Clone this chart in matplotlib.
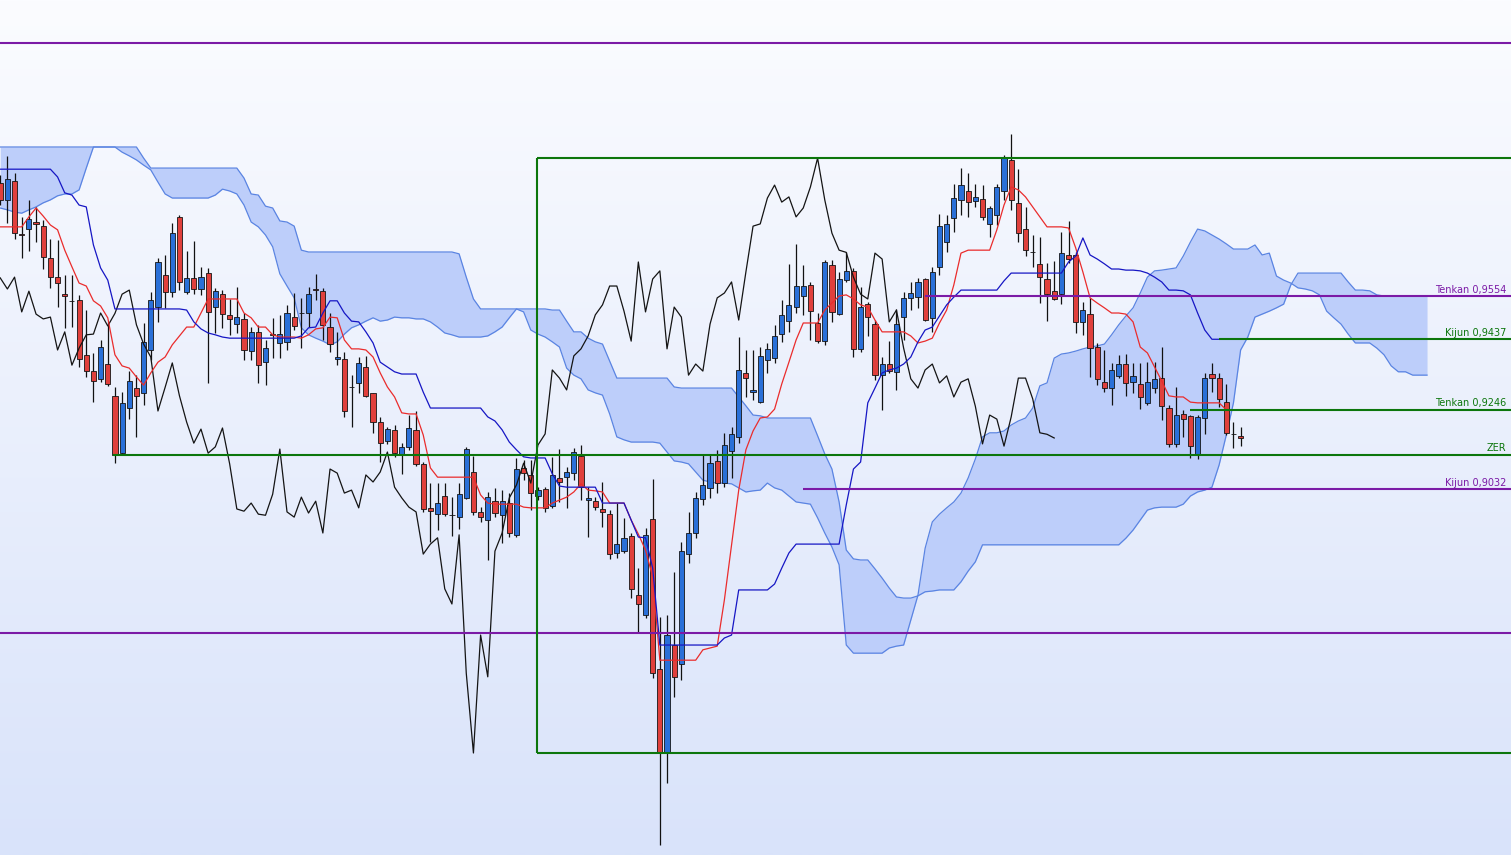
import numpy as np
import matplotlib
matplotlib.use("Agg")
import matplotlib.pyplot as plt
from matplotlib import transforms

# ---------------- data (prices) ----------------
open_ = [0.9860, 0.9814, 0.9865, 0.9722, 0.9735, 0.9754, 0.9743, 0.9657, 0.9605, 0.9559,
         0.9541, 0.9543, 0.9395, 0.9351, 0.9330, 0.9370, 0.9284, 0.9129, 0.9251, 0.9305,
         0.9292, 0.9408, 0.9524, 0.9611, 0.9565, 0.9768, 0.9565, 0.9603, 0.9573, 0.9616,
         0.9524, 0.9559, 0.9503, 0.9478, 0.9492, 0.9405, 0.9457, 0.9376, 0.9451, 0.9427,
         0.9430, 0.9497, 0.9508, 0.9508, 0.9573, 0.9568, 0.9470, 0.9384, 0.9384, 0.9308,
         0.9319, 0.9362, 0.9292, 0.9213, 0.9162, 0.9192, 0.9124, 0.9146, 0.9192, 0.9100,
         0.8981, 0.8964, 0.9013, 0.8962, 0.8956, 0.9008, 0.9078, 0.8970, 0.8948, 0.8999,
         0.8962, 0.8994, 0.8908, 0.9089, 0.9070, 0.9013, 0.9032, 0.8986, 0.9062, 0.9065,
         0.9075, 0.9121, 0.9002, 0.8999, 0.8978, 0.8964, 0.8859, 0.8864, 0.8905, 0.8745,
         0.8691, 0.8951, 0.8545, 0.8321, 0.8610, 0.8559, 0.8856, 0.8913, 0.9005, 0.9035,
         0.9108, 0.9048, 0.9135, 0.9173, 0.9346, 0.9294, 0.9267, 0.9381, 0.9386, 0.9451,
         0.9486, 0.9524, 0.9554, 0.9584, 0.9481, 0.9432, 0.9638, 0.9505, 0.9597, 0.9622,
         0.9411, 0.9532, 0.9478, 0.9340, 0.9370, 0.9349, 0.9497, 0.9549, 0.9551, 0.9600,
         0.9495, 0.9633, 0.9700, 0.9765, 0.9814, 0.9838, 0.9811, 0.9816, 0.9749, 0.9773,
         0.9838, 0.9922, 0.9806, 0.9735, 0.9673, 0.9641, 0.9600, 0.9568, 0.9559, 0.9665,
         0.9665, 0.9484, 0.9505, 0.9416, 0.9321, 0.9305, 0.9338, 0.9370, 0.9321, 0.9316,
         0.9265, 0.9305, 0.9332, 0.9251, 0.9154, 0.9235, 0.9229, 0.9127, 0.9224, 0.9343,
         0.9332, 0.9267, 0.9181, 0.9175]

high = [0.9881, 0.9933, 0.9887, 0.9768, 0.9814, 0.9795, 0.9760, 0.9708, 0.9706, 0.9611,
        0.9611, 0.9557, 0.9516, 0.9400, 0.9435, 0.9484, 0.9308, 0.9294, 0.9351, 0.9340,
        0.9481, 0.9565, 0.9657, 0.9665, 0.9752, 0.9773, 0.9676, 0.9703, 0.9633, 0.9630,
        0.9576, 0.9570, 0.9546, 0.9578, 0.9508, 0.9470, 0.9476, 0.9435, 0.9495, 0.9503,
        0.9530, 0.9562, 0.9549, 0.9578, 0.9614, 0.9576, 0.9508, 0.9457, 0.9403, 0.9340,
        0.9389, 0.9392, 0.9293, 0.9227, 0.9200, 0.9205, 0.9156, 0.9232, 0.9243, 0.9105,
        0.9048, 0.9048, 0.9048, 0.9010, 0.9048, 0.9146, 0.9121, 0.8983, 0.9024, 0.9035,
        0.9029, 0.9021, 0.9116, 0.9110, 0.9110, 0.9037, 0.9037, 0.9119, 0.9140, 0.9092,
        0.9143, 0.9151, 0.9037, 0.9010, 0.9051, 0.8975, 0.8994, 0.8954, 0.8913, 0.8818,
        0.8927, 0.9059, 0.8686, 0.8691, 0.8808, 0.8889, 0.8970, 0.9024, 0.9124, 0.9124,
        0.9138, 0.9184, 0.9200, 0.9443, 0.9408, 0.9408, 0.9416, 0.9427, 0.9476, 0.9543,
        0.9641, 0.9695, 0.9638, 0.9592, 0.9508, 0.9651, 0.9651, 0.9619, 0.9673, 0.9630,
        0.9578, 0.9538, 0.9489, 0.9389, 0.9432, 0.9519, 0.9565, 0.9592, 0.9603, 0.9603,
        0.9633, 0.9776, 0.9773, 0.9857, 0.9900, 0.9887, 0.9857, 0.9854, 0.9797, 0.9857,
        0.9935, 0.9992, 0.9897, 0.9795, 0.9719, 0.9714, 0.9643, 0.9649, 0.9727, 0.9757,
        0.9673, 0.9538, 0.9549, 0.9427, 0.9408, 0.9373, 0.9395, 0.9397, 0.9373, 0.9373,
        0.9376, 0.9376, 0.9416, 0.9259, 0.9308, 0.9246, 0.9232, 0.9232, 0.9346, 0.9373,
        0.9346, 0.9316, 0.9213, 0.9200]

low = [0.9800, 0.9752, 0.9708, 0.9657, 0.9676, 0.9700, 0.9627, 0.9576, 0.9524, 0.9468,
       0.9470, 0.9362, 0.9335, 0.9267, 0.9321, 0.9311, 0.9102, 0.9124, 0.9221, 0.9173,
       0.9259, 0.9381, 0.9484, 0.9522, 0.9551, 0.9570, 0.9559, 0.9559, 0.9557, 0.9319,
       0.9454, 0.9468, 0.9448, 0.9454, 0.9381, 0.9381, 0.9319, 0.9313, 0.9386, 0.9386,
       0.9408, 0.9462, 0.9413, 0.9470, 0.9543, 0.9435, 0.9403, 0.9367, 0.9227, 0.9200,
       0.9292, 0.9281, 0.9184, 0.9105, 0.9154, 0.9119, 0.9073, 0.9138, 0.9094, 0.8970,
       0.8889, 0.8921, 0.8959, 0.8905, 0.8924, 0.9005, 0.8962, 0.8943, 0.8840, 0.8956,
       0.8886, 0.8902, 0.8902, 0.9056, 0.8975, 0.9002, 0.8970, 0.8981, 0.8997, 0.8981,
       0.9056, 0.9002, 0.8902, 0.8975, 0.8929, 0.8843, 0.8845, 0.8859, 0.8737, 0.8642,
       0.8683, 0.8521, 0.8069, 0.8237, 0.8470, 0.8515, 0.8832, 0.8899, 0.8989, 0.9008,
       0.9021, 0.9037, 0.9062, 0.9156, 0.9281, 0.9273, 0.9265, 0.9346, 0.9373, 0.9430,
       0.9457, 0.9508, 0.9503, 0.9435, 0.9427, 0.9421, 0.9484, 0.9503, 0.9592, 0.9389,
       0.9403, 0.9446, 0.9327, 0.9246, 0.9346, 0.9300, 0.9435, 0.9516, 0.9522, 0.9486,
       0.9457, 0.9611, 0.9673, 0.9727, 0.9773, 0.9768, 0.9795, 0.9760, 0.9714, 0.9746,
       0.9814, 0.9787, 0.9700, 0.9662, 0.9633, 0.9535, 0.9486, 0.9543, 0.9532, 0.9643,
       0.9454, 0.9449, 0.9335, 0.9313, 0.9294, 0.9259, 0.9332, 0.9284, 0.9292, 0.9248,
       0.9259, 0.9292, 0.9219, 0.9146, 0.9146, 0.9173, 0.9116, 0.9113, 0.9181, 0.9294,
       0.9254, 0.9178, 0.9143, 0.9148]

close = [0.9814, 0.9871, 0.9724, 0.9719, 0.9762, 0.9749, 0.9660, 0.9605, 0.9589, 0.9554,
         0.9540, 0.9384, 0.9351, 0.9324, 0.9416, 0.9316, 0.9124, 0.9265, 0.9324, 0.9284,
         0.9430, 0.9543, 0.9646, 0.9565, 0.9724, 0.9592, 0.9603, 0.9573, 0.9605, 0.9511,
         0.9567, 0.9505, 0.9492, 0.9497, 0.9408, 0.9457, 0.9367, 0.9413, 0.9449, 0.9451,
         0.9508, 0.9473, 0.9507, 0.9559, 0.9570, 0.9476, 0.9424, 0.9389, 0.9243, 0.9307,
         0.9373, 0.9284, 0.9213, 0.9156, 0.9194, 0.9129, 0.9146, 0.9197, 0.9100, 0.8978,
         0.8972, 0.8994, 0.8964, 0.8961, 0.9018, 0.9140, 0.8970, 0.8956, 0.9010, 0.8967,
         0.8999, 0.8913, 0.9086, 0.9075, 0.9021, 0.9029, 0.8981, 0.9070, 0.9051, 0.9078,
         0.9132, 0.9037, 0.9008, 0.8983, 0.8970, 0.8856, 0.8883, 0.8900, 0.8762, 0.8721,
         0.8908, 0.8534, 0.8318, 0.8637, 0.8524, 0.8864, 0.8913, 0.9008, 0.9043, 0.9102,
         0.9048, 0.9151, 0.9181, 0.9354, 0.9332, 0.9300, 0.9392, 0.9411, 0.9446, 0.9503,
         0.9530, 0.9581, 0.9581, 0.9513, 0.9432, 0.9646, 0.9511, 0.9600, 0.9622, 0.9411,
         0.9524, 0.9497, 0.9340, 0.9370, 0.9351, 0.9478, 0.9549, 0.9562, 0.9592, 0.9489,
         0.9619, 0.9743, 0.9749, 0.9819, 0.9854, 0.9808, 0.9822, 0.9768, 0.9792, 0.9849,
         0.9927, 0.9814, 0.9724, 0.9678, 0.9672, 0.9605, 0.9559, 0.9546, 0.9670, 0.9654,
         0.9484, 0.9516, 0.9413, 0.9330, 0.9305, 0.9354, 0.9370, 0.9319, 0.9338, 0.9281,
         0.9321, 0.9330, 0.9256, 0.9154, 0.9232, 0.9221, 0.9148, 0.9227, 0.9332, 0.9332,
         0.9276, 0.9184, 0.9180, 0.9170]

tenkan = [0.9741, 0.9741, 0.9741, 0.9741, 0.9768, 0.9792, 0.9770, 0.9746, 0.9733, 0.9678,
          0.9633, 0.9589, 0.9581, 0.9541, 0.9527, 0.9495, 0.9395, 0.9365, 0.9359, 0.9335,
          0.9313, 0.9346, 0.9375, 0.9389, 0.9422, 0.9446, 0.9470, 0.9470, 0.9508, 0.9546,
          0.9546, 0.9546, 0.9546, 0.9546, 0.9508, 0.9495, 0.9470, 0.9470, 0.9449, 0.9443,
          0.9443, 0.9443, 0.9440, 0.9449, 0.9465, 0.9468, 0.9497, 0.9495, 0.9435, 0.9411,
          0.9411, 0.9408, 0.9389, 0.9346, 0.9308, 0.9281, 0.9238, 0.9235, 0.9235, 0.9178,
          0.9089, 0.9064, 0.9064, 0.9064, 0.9064, 0.9064, 0.9064, 0.9016, 0.8994, 0.8991,
          0.8991, 0.8991, 0.8991, 0.8983, 0.8981, 0.8981, 0.8981, 0.8994, 0.9002, 0.9010,
          0.9024, 0.9046, 0.9029, 0.9027, 0.9024, 0.8994, 0.8994, 0.8994, 0.8948, 0.8910,
          0.8867, 0.8794, 0.8569, 0.8569, 0.8569, 0.8569, 0.8569, 0.8569, 0.8597, 0.8602,
          0.8607, 0.8732, 0.8881, 0.9029, 0.9138, 0.9189, 0.9224, 0.9227, 0.9248, 0.9316,
          0.9375, 0.9435, 0.9481, 0.9481, 0.9481, 0.9516, 0.9535, 0.9554, 0.9557, 0.9546,
          0.9530, 0.9524, 0.9489, 0.9457, 0.9457, 0.9457, 0.9457, 0.9446, 0.9427, 0.9432,
          0.9440, 0.9481, 0.9516, 0.9584, 0.9670, 0.9678, 0.9678, 0.9678, 0.9678, 0.9733,
          0.9800, 0.9849, 0.9841, 0.9822, 0.9795, 0.9768, 0.9741, 0.9741, 0.9741, 0.9738,
          0.9684, 0.9619, 0.9549, 0.9535, 0.9522, 0.9508, 0.9508, 0.9505, 0.9484, 0.9416,
          0.9400, 0.9362, 0.9324, 0.9284, 0.9281, 0.9281, 0.9267, 0.9265, 0.9265, 0.9265,
          0.9265, 0.9246, 0.9246, 0.9246]

kijun = [0.9897, 0.9897, 0.9897, 0.9897, 0.9897, 0.9897, 0.9897, 0.9897, 0.9876, 0.9833,
         0.9827, 0.9800, 0.9795, 0.9692, 0.9630, 0.9597, 0.9519, 0.9519, 0.9519, 0.9519,
         0.9519, 0.9519, 0.9519, 0.9519, 0.9519, 0.9519, 0.9516, 0.9484, 0.9465, 0.9454,
         0.9449, 0.9443, 0.9440, 0.9440, 0.9440, 0.9440, 0.9440, 0.9440, 0.9440, 0.9440,
         0.9440, 0.9440, 0.9446, 0.9468, 0.9470, 0.9508, 0.9541, 0.9541, 0.9508, 0.9486,
         0.9484, 0.9457, 0.9427, 0.9375, 0.9362, 0.9349, 0.9343, 0.9343, 0.9343, 0.9294,
         0.9251, 0.9251, 0.9251, 0.9251, 0.9251, 0.9251, 0.9251, 0.9251, 0.9227, 0.9216,
         0.9192, 0.9159, 0.9138, 0.9119, 0.9116, 0.9116, 0.9116, 0.9073, 0.9040, 0.9037,
         0.9037, 0.9037, 0.9037, 0.9037, 0.8994, 0.8994, 0.8994, 0.8994, 0.8948, 0.8902,
         0.8900, 0.8818, 0.8610, 0.8610, 0.8610, 0.8610, 0.8610, 0.8610, 0.8610, 0.8610,
         0.8610, 0.8629, 0.8637, 0.8759, 0.8759, 0.8759, 0.8759, 0.8759, 0.8775, 0.8818,
         0.8859, 0.8883, 0.8883, 0.8883, 0.8883, 0.8883, 0.8883, 0.8883, 0.8989, 0.9086,
         0.9105, 0.9265, 0.9305, 0.9346, 0.9354, 0.9359, 0.9370, 0.9389, 0.9430, 0.9462,
         0.9470, 0.9500, 0.9530, 0.9551, 0.9570, 0.9570, 0.9570, 0.9570, 0.9570, 0.9570,
         0.9595, 0.9616, 0.9616, 0.9616, 0.9616, 0.9616, 0.9616, 0.9616, 0.9616, 0.9646,
         0.9662, 0.9711, 0.9665, 0.9654, 0.9641, 0.9627, 0.9627, 0.9624, 0.9624, 0.9622,
         0.9616, 0.9605, 0.9592, 0.9570, 0.9570, 0.9568, 0.9557, 0.9508, 0.9462, 0.9437,
         0.9437, 0.9437, 0.9437, 0.9437]

span_a = [0.9792, 0.9787, 0.9781, 0.9778, 0.9787, 0.9795, 0.9806, 0.9814, 0.9825, 0.9830,
          0.9830, 0.9841, 0.9900, 0.9957, 0.9957, 0.9957, 0.9957, 0.9943, 0.9933, 0.9922,
          0.9908, 0.9895, 0.9862, 0.9830, 0.9819, 0.9819, 0.9819, 0.9819, 0.9819, 0.9819,
          0.9827, 0.9843, 0.9838, 0.9830, 0.9800, 0.9754, 0.9741, 0.9719, 0.9687, 0.9614,
          0.9581, 0.9549, 0.9468, 0.9449, 0.9440, 0.9432, 0.9422, 0.9430, 0.9451, 0.9468,
          0.9476, 0.9486, 0.9495, 0.9486, 0.9489, 0.9497, 0.9495, 0.9495, 0.9492, 0.9492,
          0.9484, 0.9470, 0.9454, 0.9449, 0.9443, 0.9443, 0.9443, 0.9443, 0.9446, 0.9457,
          0.9470, 0.9495, 0.9519, 0.9511, 0.9462, 0.9451, 0.9443, 0.9430, 0.9416, 0.9359,
          0.9340, 0.9330, 0.9300, 0.9292, 0.9286, 0.9235, 0.9173, 0.9165, 0.9159, 0.9159,
          0.9159, 0.9159, 0.9156, 0.9132, 0.9108, 0.9105, 0.9100, 0.9078, 0.9056, 0.9051,
          0.9048, 0.9048, 0.9046, 0.9035, 0.9024, 0.9027, 0.9029, 0.9048, 0.9035, 0.9029,
          0.9013, 0.8997, 0.8994, 0.8991, 0.8954, 0.8913, 0.8875, 0.8827, 0.8610, 0.8588,
          0.8588, 0.8588, 0.8588, 0.8588, 0.8602, 0.8607, 0.8610, 0.8678, 0.8745, 0.8872,
          0.8943, 0.8964, 0.8981, 0.8997, 0.9021, 0.9062, 0.9113, 0.9173, 0.9184, 0.9184,
          0.9189, 0.9205, 0.9216, 0.9224, 0.9251, 0.9311, 0.9319, 0.9386, 0.9397, 0.9400,
          0.9405, 0.9411, 0.9416, 0.9419, 0.9424, 0.9449, 0.9476, 0.9500, 0.9522, 0.9562,
          0.9605, 0.9622, 0.9624, 0.9627, 0.9630, 0.9662, 0.9700, 0.9735, 0.9730, 0.9719,
          0.9708, 0.9695, 0.9681, 0.9681, 0.9681, 0.9692, 0.9665, 0.9670, 0.9608, 0.9597,
          0.9589, 0.9576, 0.9573, 0.9568, 0.9557, 0.9513, 0.9495, 0.9478, 0.9451, 0.9427,
          0.9427, 0.9427, 0.9413, 0.9395, 0.9365, 0.9349, 0.9349, 0.9340, 0.9340, 0.9340]

span_b = [0.9957, 0.9957, 0.9957, 0.9957, 0.9957, 0.9957, 0.9957, 0.9957, 0.9957, 0.9957,
          0.9957, 0.9957, 0.9957, 0.9957, 0.9957, 0.9957, 0.9957, 0.9957, 0.9957, 0.9957,
          0.9927, 0.9900, 0.9900, 0.9900, 0.9900, 0.9900, 0.9900, 0.9900, 0.9900, 0.9900,
          0.9900, 0.9900, 0.9900, 0.9900, 0.9873, 0.9830, 0.9827, 0.9797, 0.9792, 0.9757,
          0.9754, 0.9743, 0.9678, 0.9673, 0.9673, 0.9673, 0.9673, 0.9673, 0.9673, 0.9673,
          0.9673, 0.9673, 0.9673, 0.9673, 0.9673, 0.9673, 0.9673, 0.9673, 0.9673, 0.9673,
          0.9673, 0.9673, 0.9673, 0.9673, 0.9668, 0.9605, 0.9546, 0.9519, 0.9519, 0.9519,
          0.9519, 0.9519, 0.9519, 0.9519, 0.9519, 0.9519, 0.9519, 0.9516, 0.9516, 0.9486,
          0.9457, 0.9457, 0.9440, 0.9430, 0.9424, 0.9378, 0.9332, 0.9332, 0.9332, 0.9332,
          0.9332, 0.9332, 0.9332, 0.9332, 0.9308, 0.9305, 0.9305, 0.9305, 0.9305, 0.9305,
          0.9305, 0.9305, 0.9305, 0.9281, 0.9257, 0.9232, 0.9230, 0.9224, 0.9224, 0.9224,
          0.9224, 0.9224, 0.9224, 0.9224, 0.9176, 0.9127, 0.9086, 0.8997, 0.8867, 0.8843,
          0.8840, 0.8840, 0.8816, 0.8791, 0.8764, 0.8740, 0.8737, 0.8737, 0.8743, 0.8754,
          0.8756, 0.8759, 0.8759, 0.8759, 0.8781, 0.8810, 0.8835, 0.8881, 0.8881, 0.8881,
          0.8881, 0.8881, 0.8881, 0.8881, 0.8881, 0.8881, 0.8881, 0.8881, 0.8881, 0.8881,
          0.8881, 0.8881, 0.8881, 0.8881, 0.8881, 0.8881, 0.8881, 0.8899, 0.8921, 0.8948,
          0.8975, 0.8981, 0.8983, 0.8983, 0.8983, 0.8991, 0.9013, 0.9024, 0.9029, 0.9037,
          0.9097, 0.9178, 0.9265, 0.9408, 0.9443, 0.9497, 0.9505, 0.9513, 0.9522, 0.9532,
          0.9584, 0.9616, 0.9616, 0.9616, 0.9616, 0.9616, 0.9616, 0.9616, 0.9592, 0.9570,
          0.9570, 0.9568, 0.9557, 0.9554, 0.9554, 0.9554, 0.9554, 0.9554, 0.9554, 0.9554]

chikou_shift = 26

# horizontal drawings: (price, start bar, colour key, label)
level_top = 1.0238
level_bottom = 0.8642
box_high, box_low, box_start = 0.9927, 0.8318, 74.87
zer_level, zer_start = 0.9124, 15.7
labels = [("Tenkan 0,9554", 0.9554, 129.0, "purple"),
          ("Kijun 0,9437", 0.9437, 170.0, "green"),
          ("Tenkan 0,9246", 0.9246, 166.0, "green"),
          ("ZER", zer_level, zer_start, "green"),
          ("Kijun 0,9032", 0.9032, 112.0, "purple")]

n = len(close)
assert len(open_) == n and len(high) == n and len(low) == n
assert len(tenkan) == n and len(kijun) == n
assert len(span_a) == n + chikou_shift and len(span_b) == n + chikou_shift

o = np.array(open_); h = np.array(high); l = np.array(low); c = np.array(close)
x = np.arange(n)
xc = np.arange(n + chikou_shift)

PURPLE = "#7b1aa6"
GREEN = "#0c760c"
colmap = {"purple": PURPLE, "green": GREEN}

fig = plt.figure(figsize=(15.11, 8.55), dpi=100)
ax = fig.add_axes([0, 0, 1, 1])
XMIN, XMAX = -0.03, 210.71
ax.set_xlim(XMIN, XMAX)
ax.set_ylim(0.80421, 1.03546)
ax.axis("off")

# background gradient
top = np.array([251, 252, 255]) / 255.0
bot = np.array([217, 227, 250]) / 255.0
t = np.linspace(0, 1, 256)[:, None]
grad = (top[None, :] * (1 - t) + bot[None, :] * t)[:, None, :]
ax.imshow(grad, extent=[0, 1, 0, 1], transform=ax.transAxes, aspect="auto",
          zorder=0, interpolation="bilinear")

# cloud
ax.fill_between(xc, span_a, span_b, color="#bdcefa", lw=0, zorder=1)
ax.plot(xc, span_a, color="#5a84e2", lw=0.9, zorder=2)
ax.plot(xc, span_b, color="#5a84e2", lw=0.9, zorder=2)

# chikou
ax.plot(x[:n - chikou_shift], c[chikou_shift:], color="#141414", lw=0.9, zorder=5)

# candles
up = c >= o
body_col = np.where(up, "#2a70d8", "#e0403c")
ax.vlines(x, l, h, colors="#111111", lw=0.9, zorder=3)
ax.bar(x, np.abs(c - o), bottom=np.minimum(o, c), width=0.72, color=body_col,
       edgecolor="#151515", linewidth=0.6, zorder=4)

# tenkan / kijun
ax.plot(x, tenkan, color="#ea2c2c", lw=0.9, zorder=6)
ax.plot(x, kijun, color="#1616c4", lw=0.9, zorder=6)

# horizontal drawings
LW = 1.5
ax.hlines(level_top, XMIN, XMAX, color=PURPLE, lw=LW, zorder=7)
ax.hlines(level_bottom, XMIN, XMAX, color=PURPLE, lw=LW, zorder=7)
ax.hlines([box_high, box_low], box_start, XMAX + 5, color=GREEN, lw=LW, zorder=7)
ax.vlines(box_start, box_low, box_high, color=GREEN, lw=LW, zorder=7)

txt_tr = transforms.offset_copy(ax.transData, fig=fig, x=0, y=3.5, units="dots")
for text, lvl, start, ck in labels:
    ax.hlines(lvl, start, XMAX + 5, color=colmap[ck], lw=LW, zorder=7)
    ax.text(210.0, lvl, text, color=colmap[ck], fontsize=7, ha="right",
            va="baseline", family="DejaVu Sans", transform=txt_tr, zorder=8)

fig.savefig("out.png", dpi=100)
